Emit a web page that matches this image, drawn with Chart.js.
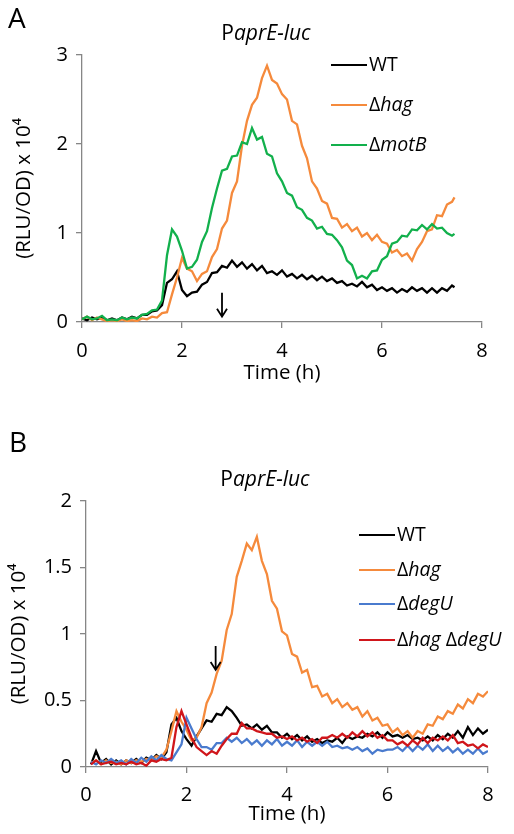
<!DOCTYPE html>
<html>
<head>
<meta charset="utf-8">
<script src="https://cdn.jsdelivr.net/npm/chart.js@4.4.1/dist/chart.umd.min.js"></script>
<style>
  html, body { margin: 0; padding: 0; background: #fff; }
  body { width: 514px; height: 834px; position: relative; overflow: hidden; }
  canvas { position: absolute; left: 0; }
  #chartA { top: 0; }
  #chartB { top: 420px; }
</style>
</head>
<body>
<canvas id="chartA" width="514" height="400"></canvas>
<canvas id="chartB" width="514" height="414"></canvas>
<script>
// ---- Panel A data: PaprE-luc, time (h) vs (RLU/OD) x 10^4 ----
const timesA = [0.0, 0.1, 0.2, 0.3, 0.4, 0.5, 0.6, 0.7, 0.8, 0.9,
  1.0, 1.1, 1.2, 1.3, 1.4, 1.5, 1.6, 1.7, 1.8, 1.9,
  2.0, 2.1, 2.2, 2.3, 2.4, 2.5, 2.6, 2.7, 2.8, 2.9,
  3.0, 3.1, 3.2, 3.3, 3.4, 3.5, 3.6, 3.7, 3.8, 3.9,
  4.0, 4.1, 4.2, 4.3, 4.4, 4.5, 4.6, 4.7, 4.8, 4.9,
  5.0, 5.1, 5.2, 5.3, 5.4, 5.5, 5.6, 5.7, 5.8, 5.9,
  6.0, 6.1, 6.2, 6.3, 6.4, 6.5, 6.6, 6.7, 6.8, 6.9,
  7.0, 7.1, 7.2, 7.3, 7.4, 7.45];
const wtA = [0.04, 0.02, 0.05, 0.03, 0.05, 0.02, 0.04, 0.02, 0.05, 0.03,
  0.06, 0.04, 0.08, 0.08, 0.12, 0.13, 0.19, 0.44, 0.48, 0.57,
  0.36, 0.29, 0.33, 0.34, 0.42, 0.45, 0.55, 0.56, 0.63, 0.61,
  0.69, 0.62, 0.67, 0.60, 0.65, 0.58, 0.63, 0.55, 0.57, 0.53,
  0.58, 0.51, 0.54, 0.49, 0.53, 0.48, 0.52, 0.47, 0.51, 0.46,
  0.49, 0.44, 0.46, 0.41, 0.43, 0.40, 0.45, 0.39, 0.42, 0.36,
  0.39, 0.35, 0.38, 0.33, 0.37, 0.34, 0.39, 0.35, 0.38, 0.33,
  0.38, 0.33, 0.38, 0.35, 0.41, 0.39];
const hagA = [0.03, 0.06, 0.02, 0.05, 0.03, 0.01, 0.02, 0.01, 0.03, 0.01,
  0.02, 0.01, 0.04, 0.03, 0.06, 0.05, 0.10, 0.11, 0.31, 0.50,
  0.72, 0.60, 0.57, 0.46, 0.54, 0.57, 0.73, 0.82, 1.05, 1.14,
  1.45, 1.58, 1.98, 2.26, 2.44, 2.52, 2.74, 2.88, 2.72, 2.68,
  2.56, 2.50, 2.26, 2.22, 1.98, 1.84, 1.58, 1.50, 1.36, 1.33,
  1.17, 1.16, 1.06, 1.10, 1.02, 1.06, 0.96, 1.00, 0.92, 0.98,
  0.90, 0.88, 0.78, 0.81, 0.74, 0.77, 0.69, 0.82, 0.90, 1.02,
  1.04, 1.20, 1.19, 1.32, 1.35, 1.40];
const motBA = [0.03, 0.06, 0.03, 0.04, 0.07, 0.02, 0.03, 0.02, 0.05, 0.03,
  0.05, 0.04, 0.08, 0.09, 0.13, 0.14, 0.24, 0.75, 1.04, 0.96,
  0.80, 0.60, 0.62, 0.70, 0.90, 1.02, 1.28, 1.50, 1.70, 1.72,
  1.86, 1.87, 2.02, 2.00, 2.18, 2.05, 2.08, 1.89, 1.86, 1.67,
  1.58, 1.45, 1.42, 1.29, 1.26, 1.17, 1.14, 1.05, 1.07, 0.99,
  0.98, 0.92, 0.84, 0.69, 0.64, 0.49, 0.52, 0.49, 0.57, 0.58,
  0.70, 0.74, 0.88, 0.90, 0.97, 0.96, 1.04, 1.03, 1.09, 1.04,
  1.10, 1.05, 1.06, 1.00, 0.97, 0.99];

// ---- Panel B data ----
const timesB = [0.1, 0.2, 0.3, 0.4, 0.5, 0.6, 0.7, 0.8, 0.9, 1.0,
  1.1, 1.2, 1.3, 1.4, 1.5, 1.6, 1.7, 1.8, 1.9, 2.0,
  2.1, 2.2, 2.3, 2.4, 2.5, 2.6, 2.7, 2.8, 2.9, 3.0,
  3.1, 3.2, 3.3, 3.4, 3.5, 3.6, 3.7, 3.8, 3.9, 4.0,
  4.1, 4.2, 4.3, 4.4, 4.5, 4.6, 4.7, 4.8, 4.9, 5.0,
  5.1, 5.2, 5.3, 5.4, 5.5, 5.6, 5.7, 5.8, 5.9, 6.0,
  6.1, 6.2, 6.3, 6.4, 6.5, 6.6, 6.7, 6.8, 6.9, 7.0,
  7.1, 7.2, 7.3, 7.4, 7.5, 7.6, 7.7, 7.8, 7.9, 8.0];
const wtB = [0.02, 0.12, 0.03, 0.06, 0.02, 0.05, 0.02, 0.05, 0.03, 0.06,
  0.03, 0.07, 0.05, 0.09, 0.06, 0.11, 0.32, 0.37, 0.27, 0.21,
  0.16, 0.23, 0.29, 0.35, 0.34, 0.40, 0.39, 0.45, 0.42, 0.37,
  0.31, 0.32, 0.29, 0.32, 0.28, 0.31, 0.26, 0.26, 0.22, 0.25,
  0.21, 0.24, 0.20, 0.23, 0.19, 0.21, 0.18, 0.20, 0.19, 0.22,
  0.18, 0.23, 0.21, 0.23, 0.22, 0.25, 0.23, 0.26, 0.22, 0.26,
  0.23, 0.24, 0.22, 0.24, 0.21, 0.22, 0.20, 0.23, 0.20, 0.24,
  0.21, 0.25, 0.22, 0.27, 0.22, 0.30, 0.24, 0.29, 0.25, 0.28];
const hagB = [0.03, 0.05, 0.02, 0.05, 0.03, 0.04, 0.02, 0.05, 0.03, 0.05,
  0.04, 0.06, 0.05, 0.08, 0.07, 0.13, 0.27, 0.42, 0.34, 0.28,
  0.20, 0.22, 0.30, 0.48, 0.56, 0.70, 0.80, 1.03, 1.15, 1.43,
  1.55, 1.68, 1.63, 1.73, 1.55, 1.45, 1.25, 1.19, 1.02, 0.99,
  0.85, 0.83, 0.71, 0.73, 0.60, 0.61, 0.53, 0.55, 0.48, 0.51,
  0.45, 0.48, 0.43, 0.45, 0.38, 0.42, 0.35, 0.37, 0.31, 0.32,
  0.26, 0.29, 0.24, 0.27, 0.22, 0.27, 0.25, 0.32, 0.31, 0.38,
  0.36, 0.42, 0.40, 0.47, 0.44, 0.51, 0.48, 0.55, 0.53, 0.57];
const degUB = [0.04, 0.02, 0.05, 0.03, 0.06, 0.03, 0.05, 0.02, 0.06, 0.03,
  0.07, 0.04, 0.08, 0.05, 0.09, 0.06, 0.05, 0.11, 0.17, 0.37,
  0.29, 0.21, 0.15, 0.15, 0.13, 0.18, 0.18, 0.22, 0.19, 0.22,
  0.18, 0.21, 0.17, 0.20, 0.16, 0.20, 0.17, 0.21, 0.16, 0.19,
  0.16, 0.20, 0.15, 0.19, 0.16, 0.19, 0.16, 0.19, 0.15, 0.16,
  0.14, 0.15, 0.13, 0.15, 0.12, 0.14, 0.10, 0.13, 0.12, 0.13,
  0.13, 0.15, 0.12, 0.16, 0.12, 0.16, 0.13, 0.17, 0.12, 0.16,
  0.12, 0.15, 0.11, 0.14, 0.10, 0.13, 0.10, 0.14, 0.10, 0.12];
const hagDegUB = [0.02, 0.05, 0.02, 0.03, 0.04, 0.02, 0.03, 0.02, 0.04, 0.02,
  0.03, 0.01, 0.05, 0.04, 0.06, 0.05, 0.07, 0.30, 0.42, 0.32,
  0.22, 0.15, 0.12, 0.09, 0.12, 0.10, 0.16, 0.21, 0.25, 0.25,
  0.33, 0.29, 0.29, 0.27, 0.26, 0.25, 0.25, 0.22, 0.23, 0.21,
  0.23, 0.20, 0.22, 0.19, 0.21, 0.18, 0.22, 0.22, 0.24, 0.22,
  0.25, 0.22, 0.26, 0.23, 0.27, 0.23, 0.26, 0.22, 0.24, 0.20,
  0.20, 0.17, 0.19, 0.16, 0.20, 0.17, 0.22, 0.18, 0.22, 0.20,
  0.23, 0.20, 0.24, 0.18, 0.19, 0.16, 0.17, 0.14, 0.17, 0.15];

const xTicks = [0, 2, 4, 6, 8];
const yTicksA = [0, 1, 2, 3];
const yTicksB = [0, 0.5, 1, 1.5, 2];

const FONT = "'Open Sans', 'DejaVu Sans', sans-serif";
const AXIS_GREY = '#868686';

// rich text: array of [text, italic]
function richWidth(ctx, parts, size) {
  let w = 0;
  parts.forEach(([t, it]) => {
    ctx.font = (it ? 'italic ' : '') + size + 'px ' + FONT;
    w += ctx.measureText(t).width;
  });
  return w;
}
function drawRich(ctx, parts, x, y, size) {
  ctx.textBaseline = 'middle';
  ctx.textAlign = 'left';
  parts.forEach(([t, it]) => {
    ctx.font = (it ? 'italic ' : '') + size + 'px ' + FONT;
    ctx.fillText(t, x, y);
    x += ctx.measureText(t).width;
  });
}

const decorPlugin = {
  id: 'decor',
  afterDraw(chart, args, opts) {
    const ctx = chart.ctx;
    const xs = chart.scales.x, ys = chart.scales.y;
    ctx.save();
    ctx.fillStyle = '#000';
    // panel letter
    ctx.font = '28px ' + FONT;
    ctx.textBaseline = 'middle';
    ctx.textAlign = 'left';
    ctx.fillText(opts.letter, opts.letterX, opts.letterY);
    // title
    const tw = richWidth(ctx, opts.title, 21);
    drawRich(ctx, opts.title, opts.titleX - tw / 2, opts.titleY, 21);
    // legend
    opts.legend.forEach((item, i) => {
      const y = opts.legendY[i];
      ctx.strokeStyle = item.color;
      ctx.lineWidth = 2.2;
      ctx.beginPath();
      ctx.moveTo(opts.legendX, y);
      ctx.lineTo(opts.legendX + 36, y);
      ctx.stroke();
      ctx.fillStyle = '#000';
      drawRich(ctx, item.label, opts.legendX + 38, y, 19.5);
    });
    // arrow (data coordinates)
    const ax = xs.getPixelForValue(opts.arrow.x);
    const ay1 = ys.getPixelForValue(opts.arrow.top);
    const ay2 = ys.getPixelForValue(opts.arrow.tip);
    ctx.strokeStyle = '#000';
    ctx.lineWidth = 1.8;
    ctx.beginPath();
    ctx.moveTo(ax, ay1);
    ctx.lineTo(ax, ay2);
    ctx.moveTo(ax - 5, ay2 - 8);
    ctx.lineTo(ax, ay2);
    ctx.lineTo(ax + 5, ay2 - 8);
    ctx.stroke();
    ctx.restore();
  }
};

function series(times, vals, color, order) {
  return {
    data: times.map((t, i) => ({ x: t, y: vals[i] })),
    borderColor: color,
    backgroundColor: color,
    borderWidth: 2.3,
    pointRadius: 0,
    tension: 0,
    order: order
  };
}

function makeChart(id, datasets, cfg) {
  return new Chart(document.getElementById(id), {
    type: 'line',
    data: { datasets: datasets },
    plugins: [decorPlugin],
    options: {
      responsive: false,
      animation: false,
      layout: { padding: { top: cfg.top, right: cfg.right, left: 0, bottom: 0 } },
      plugins: {
        legend: { display: false },
        tooltip: { enabled: false },
        decor: cfg.decor
      },
      scales: {
        x: {
          type: 'linear',
          min: 0, max: 8,
          afterFit: s => { s.height = cfg.xHeight; },
          afterBuildTicks: s => { s.ticks = xTicks.map(v => ({ value: v })); },
          border: { color: AXIS_GREY, width: 1.3 },
          grid: { drawOnChartArea: false, drawTicks: true, tickLength: 6, color: AXIS_GREY, lineWidth: 1.3 },
          ticks: { color: '#000', padding: cfg.xPad, font: { family: FONT, size: 20 }, maxRotation: 0 },
          title: { display: true, text: 'Time (h)', color: '#000', font: { family: FONT, size: 20.5 }, padding: { top: 0, bottom: cfg.xTitlePad } }
        },
        y: {
          min: 0, max: cfg.yMax,
          afterFit: s => { s.width = cfg.yWidth; },
          afterBuildTicks: s => { s.ticks = cfg.yTicks.map(v => ({ value: v })); },
          border: { color: AXIS_GREY, width: 1.3 },
          grid: { drawOnChartArea: false, drawTicks: true, tickLength: 6, color: AXIS_GREY, lineWidth: 1.3 },
          ticks: { color: '#000', padding: 8, font: { family: FONT, size: 20 }, callback: v => String(v) },
          title: { display: true, text: '(RLU/OD) x 10⁴', color: '#000', font: { family: FONT, size: 20.5 }, padding: { top: cfg.yTitlePad, bottom: 0 } }
        }
      }
    }
  });
}

makeChart('chartA', [
  series(timesA, wtA, '#000000', 3),
  series(timesA, hagA, '#F58A3C', 2),
  series(timesA, motBA, '#12B04C', 1)
], {
  top: 55, right: 32, yWidth: 82, xHeight: 78, xPad: 11, xTitlePad: 15, yTitlePad: 12, yMax: 3, yTicks: yTicksA,
  decor: {
    letter: 'A', letterX: 8, letterY: 20,
    title: [['P', false], ['aprE-luc', true]], titleX: 266, titleY: 34,
    legendX: 331, legendY: [65, 105, 145],
    legend: [
      { color: '#000000', label: [['WT', false]] },
      { color: '#F58A3C', label: [['Δ', false], ['hag', true]] },
      { color: '#12B04C', label: [['Δ', false], ['motB', true]] }
    ],
    arrow: { x: 2.8, top: 0.33, tip: 0.06 }
  }
});

makeChart('chartB', [
  series(timesB, wtB, '#000000', 4),
  series(timesB, hagB, '#F58A3C', 3),
  series(timesB, degUB, '#4A7BCE', 2),
  series(timesB, hagDegUB, '#D0161B', 1)
], {
  top: 81, right: 26, yWidth: 86, xHeight: 67, xPad: 10, xTitlePad: 8, yTitlePad: 7, yMax: 2, yTicks: yTicksB,
  decor: {
    letter: 'B', letterX: 9, letterY: 24,
    title: [['P', false], ['aprE-luc', true]], titleX: 265, titleY: 60,
    legendX: 359, legendY: [115, 150, 184, 220],
    legend: [
      { color: '#000000', label: [['WT', false]] },
      { color: '#F58A3C', label: [['Δ', false], ['hag', true]] },
      { color: '#4A7BCE', label: [['Δ', false], ['degU', true]] },
      { color: '#D0161B', label: [['Δ', false], ['hag', true], [' Δ', false], ['degU', true]] }
    ],
    arrow: { x: 2.58, top: 0.91, tip: 0.73 }
  }
});
</script>
</body>
</html>
